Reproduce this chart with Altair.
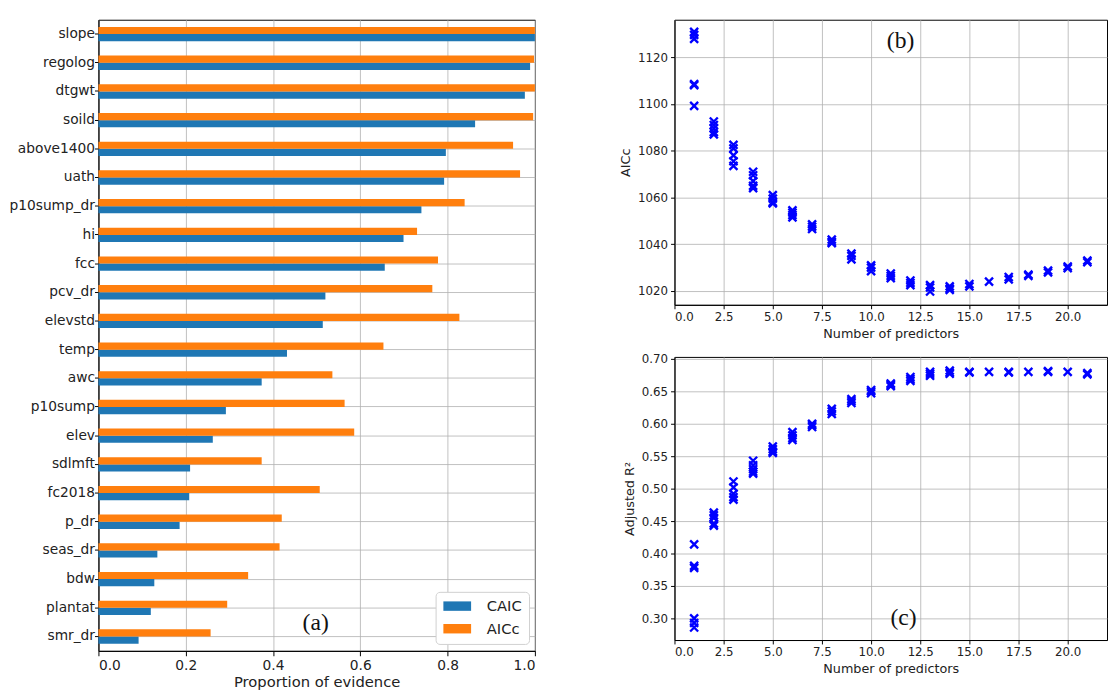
import altair as alt
import pandas as pd

# ---------------- data ----------------
features = ["slope", "regolog", "dtgwt", "soild", "above1400", "uath", "p10sump_dr",
            "hi", "fcc", "pcv_dr", "elevstd", "temp", "awc", "p10sump", "elev",
            "sdlmft", "fc2018", "p_dr", "seas_dr", "bdw", "plantat", "smr_dr"]
caic = [1.0, 0.989, 0.977, 0.863, 0.796, 0.792, 0.740, 0.699, 0.656, 0.520, 0.514,
        0.432, 0.374, 0.292, 0.262, 0.210, 0.208, 0.186, 0.135, 0.128, 0.120, 0.092]
aicc = [1.0, 0.998, 1.0, 0.996, 0.950, 0.966, 0.839, 0.730, 0.778, 0.765, 0.827,
        0.653, 0.536, 0.564, 0.586, 0.374, 0.507, 0.420, 0.415, 0.343, 0.295, 0.257]
criteria = ["CAIC", "AICc"]

b_n = [1, 1, 1, 1, 1, 1,
       2, 2, 2, 2, 2,
       3, 3, 3, 3, 3,
       4, 4, 4, 4, 4,
       5, 5, 5, 5,
       6, 6, 6, 6,
       7, 7, 7,
       8, 8, 8,
       9, 9, 9,
       10, 10, 10,
       11, 11, 11,
       12, 12, 12,
       13, 13, 13,
       14, 14, 14,
       15, 15,
       16,
       17, 17,
       18, 18,
       19, 19,
       20, 20,
       21, 21]
b_aicc = [1130.8, 1129.5, 1127.8, 1108.5, 1108.0, 1099.2,
          1092.5, 1091.0, 1089.5, 1088.0, 1087.0,
          1082.5, 1081.0, 1078.0, 1075.5, 1073.5,
          1071.0, 1069.5, 1067.0, 1065.0, 1064.0,
          1061.0, 1059.5, 1058.0, 1057.5,
          1054.5, 1053.5, 1052.5, 1051.5,
          1048.5, 1047.5, 1046.5,
          1042.0, 1041.0, 1040.5,
          1036.0, 1035.0, 1033.5,
          1031.0, 1030.0, 1028.5,
          1027.5, 1026.5, 1025.5,
          1024.5, 1023.5, 1022.5,
          1022.5, 1021.5, 1019.8,
          1022.0, 1021.0, 1020.5,
          1023.0, 1022.0,
          1024.0,
          1026.0, 1025.0,
          1027.0, 1026.5,
          1028.7, 1028.0,
          1030.5, 1029.8,
          1033.0, 1032.3]

c_n = [1, 1, 1, 1, 1, 1,
       2, 2, 2, 2, 2,
       3, 3, 3, 3, 3,
       4, 4, 4, 4, 4,
       5, 5, 5, 5,
       6, 6, 6, 6,
       7, 7, 7,
       8, 8, 8,
       9, 9, 9,
       10, 10, 10,
       11, 11, 11,
       12, 12, 12,
       13, 13, 13,
       14, 14, 14,
       15, 15,
       16,
       17, 17,
       18,
       19, 19,
       20,
       21, 21]
c_r2 = [0.414, 0.381, 0.378, 0.300, 0.293, 0.286,
        0.463, 0.459, 0.455, 0.446, 0.443,
        0.511, 0.502, 0.492, 0.487, 0.483,
        0.543, 0.536, 0.530, 0.526, 0.523,
        0.565, 0.561, 0.557, 0.555,
        0.587, 0.582, 0.578, 0.575,
        0.600, 0.598, 0.595,
        0.623, 0.619, 0.615,
        0.638, 0.635, 0.632,
        0.652, 0.650, 0.647,
        0.662, 0.660, 0.658,
        0.672, 0.669, 0.666,
        0.680, 0.677, 0.674,
        0.682, 0.679, 0.677,
        0.680, 0.679,
        0.680,
        0.680, 0.679,
        0.680,
        0.681, 0.680,
        0.680,
        0.678, 0.676]

x_ticks = [0, 2.5, 5, 7.5, 10, 12.5, 15, 17.5, 20]
b_ticks = [1020, 1040, 1060, 1080, 1100, 1120]
c_ticks = [0.30, 0.35, 0.40, 0.45, 0.50, 0.55, 0.60, 0.65, 0.70]
a_ticks = [0.0, 0.2, 0.4, 0.6, 0.8, 1.0]

FONT = "DejaVu Sans"
XMARK = "M-1,-1L1,1M-1,1L1,-1"
PATCH = "M-1.1,-0.8L3.6,-0.8L3.6,0.8L-1.1,0.8Z"

# ---------------- panel (a) ----------------
rows = []
for f, c, a in zip(features, caic, aicc):
    rows.append({"feature": f, "criterion": "CAIC", "value": c})
    rows.append({"feature": f, "criterion": "AICc", "value": a})
df_a = pd.DataFrame(rows)

bars = alt.Chart(df_a).mark_bar().encode(
    y=alt.Y("feature:N", sort=features,
            scale=alt.Scale(paddingInner=0.5, paddingOuter=0.25),
            axis=alt.Axis(title=None, grid=True, labelFontSize=14, tickSize=4,
                          labelPadding=0)),
    yOffset=alt.YOffset("criterion:N", sort=["AICc", "CAIC"]),
    x=alt.X("value:Q", scale=alt.Scale(domain=[0, 1], nice=False, zero=True),
            axis=alt.Axis(values=a_ticks, format=".1f", title="Proportion of evidence",
                          labelFontSize=14, titleFontSize=15, tickSize=5,
                          titleFontWeight="normal", titlePadding=2)),
    color=alt.Color("criterion:N",
                    scale=alt.Scale(domain=criteria, range=["#1f77b4", "#ff7f0e"]),
                    legend=alt.Legend(title=None, orient="none", legendX=343, legendY=582,
                                      symbolType=PATCH,
                                      symbolSize=144,
                                      symbolStrokeWidth=0, symbolOpacity=1,
                                      labelFontSize=15, labelFont=FONT, labelColor="#222",
                                      fillColor="white", strokeColor="#d0d0d0",
                                      cornerRadius=4, padding=7, rowPadding=7,
                                      labelOffset=30)),
)
label_a = alt.Chart(pd.DataFrame({"t": ["(a)"]})).mark_text(
    font="Liberation Serif", fontSize=24, color="#111"
).encode(x=alt.value(221), y=alt.value(614), text="t:N")

panel_a = alt.layer(bars, label_a).properties(width=444, height=642)

# ---------------- panel (b) ----------------
df_b = pd.DataFrame({"n": b_n, "aicc": b_aicc})
pts_b = alt.Chart(df_b).mark_point(shape=XMARK, filled=False, color="#0000ff",
                                   strokeWidth=2.4, size=66, opacity=1).encode(
    x=alt.X("n:Q", scale=alt.Scale(domain=[0, 22], nice=False),
            axis=alt.Axis(values=x_ticks, format=".1f", title="Number of predictors",
                          grid=True)),
    y=alt.Y("aicc:Q", scale=alt.Scale(domain=[1014.1, 1136], nice=False, zero=False),
            axis=alt.Axis(values=b_ticks, format="d", title="AICc", grid=True)),
)
label_b = alt.Chart(pd.DataFrame({"t": ["(b)"]})).mark_text(
    font="Liberation Serif", fontSize=24, color="#111"
).encode(x=alt.value(230), y=alt.value(22), text="t:N")
panel_b = alt.layer(pts_b, label_b).properties(width=440, height=290)

# ---------------- panel (c) ----------------
df_c = pd.DataFrame({"n": c_n, "r2": c_r2})
pts_c = alt.Chart(df_c).mark_point(shape=XMARK, filled=False, color="#0000ff",
                                   strokeWidth=2.4, size=66, opacity=1).encode(
    x=alt.X("n:Q", scale=alt.Scale(domain=[0, 22], nice=False),
            axis=alt.Axis(values=x_ticks, format=".1f", title="Number of predictors",
                          grid=True)),
    y=alt.Y("r2:Q", scale=alt.Scale(domain=[0.2667, 0.703], nice=False, zero=False),
            axis=alt.Axis(values=c_ticks, format=".2f", title="Adjusted R²", grid=True)),
)
label_c = alt.Chart(pd.DataFrame({"t": ["(c)"]})).mark_text(
    font="Liberation Serif", fontSize=24, color="#111"
).encode(x=alt.value(233), y=alt.value(266), text="t:N")
panel_c = alt.layer(pts_c, label_c).properties(width=440, height=288)

right = alt.vconcat(panel_b, panel_c, spacing=11)

chart = alt.hconcat(panel_a, right, spacing=84).resolve_legend(
    color="independent"
).properties(
    padding={"left": 0, "top": 5, "right": 0, "bottom": 0}
).configure_view(
    stroke="#000", strokeWidth=1
).configure_axis(
    labelFont=FONT, titleFont=FONT, labelFontSize=12, titleFontSize=13,
    titleFontWeight="normal", labelColor="#222", titleColor="#222",
    tickColor="#000", domainColor="#000", domainWidth=1, tickWidth=1,
    tickSize=4, labelPadding=3, titlePadding=5,
    gridColor="#b0b0b0", gridWidth=0.8,
).configure_text(font=FONT)

chart.save("out.html", embed_options={"renderer": "svg", "actions": False})
